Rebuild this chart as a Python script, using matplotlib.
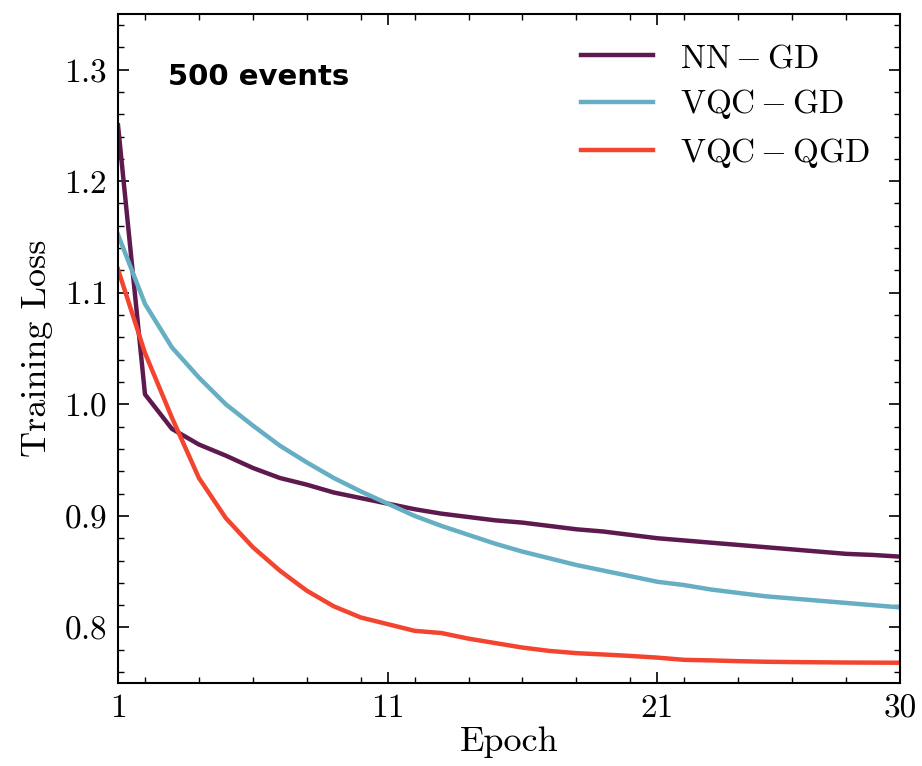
import matplotlib as mpl

mpl.use("Agg")
import matplotlib.pyplot as plt
from matplotlib.ticker import MultipleLocator

mpl.rcParams["font.family"] = "serif"
mpl.rcParams["font.serif"] = ["cmr10"]
mpl.rcParams["mathtext.fontset"] = "cm"
mpl.rcParams["axes.unicode_minus"] = False
mpl.rcParams["axes.formatter.use_mathtext"] = True

epochs = list(range(1, 31))
nn_gd = [1.250, 1.009, 0.978, 0.964, 0.954, 0.943, 0.934, 0.928, 0.921, 0.916,
         0.911, 0.906, 0.902, 0.899, 0.896, 0.894, 0.891, 0.888, 0.886, 0.883,
         0.880, 0.878, 0.876, 0.874, 0.872, 0.870, 0.868, 0.866, 0.865, 0.8635]
vqc_gd = [1.152, 1.090, 1.051, 1.024, 1.000, 0.981, 0.963, 0.948, 0.934, 0.922,
          0.911, 0.900, 0.891, 0.883, 0.875, 0.868, 0.862, 0.856, 0.851, 0.846,
          0.841, 0.838, 0.834, 0.831, 0.828, 0.826, 0.824, 0.822, 0.820, 0.818]
vqc_qgd = [1.121, 1.046, 0.988, 0.934, 0.898, 0.872, 0.851, 0.833, 0.819, 0.809,
           0.803, 0.797, 0.795, 0.790, 0.786, 0.782, 0.779, 0.777, 0.7758, 0.7745,
           0.773, 0.771, 0.7705, 0.7698, 0.7693, 0.769, 0.7688, 0.7686, 0.7685, 0.7684]
labels = [r"$\mathrm{NN}-\mathrm{GD}$", r"$\mathrm{VQC}-\mathrm{GD}$", r"$\mathrm{VQC}-\mathrm{QGD}$"]
colors = ["#5e1a4e", "#66aec3", "#f3442f"]
x_ticks = [1, 11, 21, 30]

fig = plt.figure(figsize=(9.22, 7.66), dpi=100)
ax = fig.add_axes([0.128, 0.108, 0.848, 0.874])

for ys, lab, c in zip([nn_gd, vqc_gd, vqc_qgd], labels, colors):
    ax.plot(epochs, ys, color=c, linewidth=3.2, label=lab)

ax.set_xlim(1, 30)
ax.set_ylim(0.75, 1.35)
ax.set_xticks(x_ticks)
ax.set_xticklabels([str(t) for t in x_ticks])
ax.xaxis.set_minor_locator(MultipleLocator(2))
ax.yaxis.set_major_locator(MultipleLocator(0.1))
ax.yaxis.set_minor_locator(MultipleLocator(0.02))
ax.tick_params(which="both", direction="in", top=True, right=True, labelsize=24, pad=8)
ax.tick_params(which="major", length=8, width=1.2)
ax.tick_params(which="minor", length=4, width=1.0)
for s in ax.spines.values():
    s.set_linewidth(1.5)

ax.set_xlabel("Epoch", fontsize=26, labelpad=2)
ax.set_ylabel("Training Loss", fontsize=26, labelpad=8)

ax.text(0.064, 0.906, "500 events", transform=ax.transAxes, fontsize=21,
        fontweight="bold", family="DejaVu Sans", va="center", ha="left")

ax.legend(loc="upper right", frameon=False, fontsize=24, handlelength=2.15,
          handletextpad=0.8, labelspacing=0.43, borderaxespad=0.5)

fig.savefig("out.png", dpi=100)
